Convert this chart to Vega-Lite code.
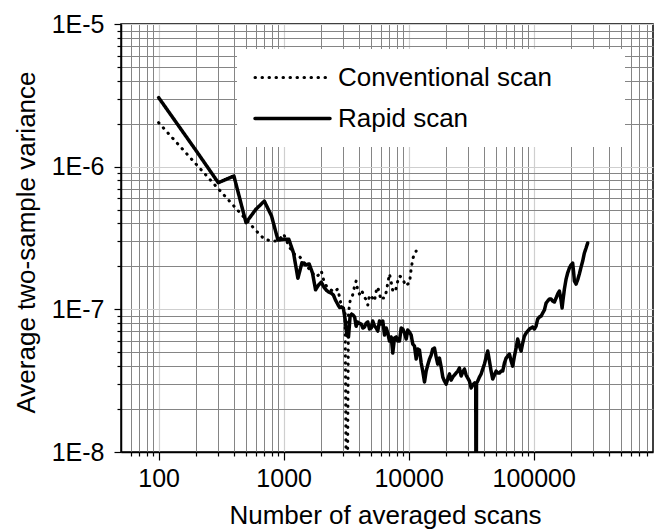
{
  "$schema": "https://vega.github.io/schema/vega-lite/v6.json",
  "width": 532,
  "height": 428,
  "autosize": "none",
  "padding": {"left": 121, "top": 24, "right": 2, "bottom": 77},
  "background": "white",
  "config": {
    "font": "Liberation Sans",
    "view": {"stroke": "black", "strokeWidth": 1.5}
  },
  "data": {
    "values": [
      {"scans": 100, "variance": 2.035e-6, "series": "Conventional scan"},
      {"scans": 200, "variance": 1.038e-6, "series": "Conventional scan"},
      {"scans": 300, "variance": 7.0e-7, "series": "Conventional scan"},
      {"scans": 400, "variance": 5.3e-7, "series": "Conventional scan"},
      {"scans": 500, "variance": 4.26e-7, "series": "Conventional scan"},
      {"scans": 600, "variance": 3.57e-7, "series": "Conventional scan"},
      {"scans": 700, "variance": 3.11e-7, "series": "Conventional scan"},
      {"scans": 800, "variance": 3.01e-7, "series": "Conventional scan"},
      {"scans": 900, "variance": 3.01e-7, "series": "Conventional scan"},
      {"scans": 1000, "variance": 3.37e-7, "series": "Conventional scan"},
      {"scans": 1100, "variance": 2.78e-7, "series": "Conventional scan"},
      {"scans": 1200, "variance": 2.44e-7, "series": "Conventional scan"},
      {"scans": 1300, "variance": 2.40e-7, "series": "Conventional scan"},
      {"scans": 1400, "variance": 2.25e-7, "series": "Conventional scan"},
      {"scans": 1500, "variance": 2.05e-7, "series": "Conventional scan"},
      {"scans": 1600, "variance": 1.92e-7, "series": "Conventional scan"},
      {"scans": 1700, "variance": 1.80e-7, "series": "Conventional scan"},
      {"scans": 1800, "variance": 1.685e-7, "series": "Conventional scan"},
      {"scans": 1900, "variance": 1.74e-7, "series": "Conventional scan"},
      {"scans": 2000, "variance": 1.857e-7, "series": "Conventional scan"},
      {"scans": 2100, "variance": 1.58e-7, "series": "Conventional scan"},
      {"scans": 2200, "variance": 1.457e-7, "series": "Conventional scan"},
      {"scans": 2300, "variance": 1.41e-7, "series": "Conventional scan"},
      {"scans": 2400, "variance": 1.366e-7, "series": "Conventional scan"},
      {"scans": 2500, "variance": 1.322e-7, "series": "Conventional scan"},
      {"scans": 2600, "variance": 1.344e-7, "series": "Conventional scan"},
      {"scans": 2700, "variance": 1.388e-7, "series": "Conventional scan"},
      {"scans": 2800, "variance": 1.22e-7, "series": "Conventional scan"},
      {"scans": 2900, "variance": 1.038e-7, "series": "Conventional scan"},
      {"scans": 3000, "variance": 1.021e-7, "series": "Conventional scan"},
      {"scans": 3100, "variance": 9.89e-8, "series": "Conventional scan"},
      {"scans": 3200, "variance": 1e-9, "series": "Conventional scan"},
      {"scans": 3300, "variance": 9.42e-8, "series": "Conventional scan"},
      {"scans": 3400, "variance": 1.143e-7, "series": "Conventional scan"},
      {"scans": 3500, "variance": 1.2e-7, "series": "Conventional scan"},
      {"scans": 3600, "variance": 1.30e-7, "series": "Conventional scan"},
      {"scans": 3690, "variance": 1.457e-7, "series": "Conventional scan"},
      {"scans": 3800, "variance": 1.58e-7, "series": "Conventional scan"},
      {"scans": 3920, "variance": 1.344e-7, "series": "Conventional scan"},
      {"scans": 4040, "variance": 1.28e-7, "series": "Conventional scan"},
      {"scans": 4170, "variance": 1.366e-7, "series": "Conventional scan"},
      {"scans": 4300, "variance": 1.30e-7, "series": "Conventional scan"},
      {"scans": 4430, "variance": 1.22e-7, "series": "Conventional scan"},
      {"scans": 4575, "variance": 1.162e-7, "series": "Conventional scan"},
      {"scans": 4710, "variance": 1.072e-7, "series": "Conventional scan"},
      {"scans": 4860, "variance": 1.26e-7, "series": "Conventional scan"},
      {"scans": 5020, "variance": 1.22e-7, "series": "Conventional scan"},
      {"scans": 5160, "variance": 1.20e-7, "series": "Conventional scan"},
      {"scans": 5330, "variance": 1.143e-7, "series": "Conventional scan"},
      {"scans": 5500, "variance": 1.344e-7, "series": "Conventional scan"},
      {"scans": 5660, "variance": 1.434e-7, "series": "Conventional scan"},
      {"scans": 5840, "variance": 1.28e-7, "series": "Conventional scan"},
      {"scans": 6030, "variance": 1.162e-7, "series": "Conventional scan"},
      {"scans": 6210, "variance": 1.20e-7, "series": "Conventional scan"},
      {"scans": 6410, "variance": 1.20e-7, "series": "Conventional scan"},
      {"scans": 6610, "variance": 1.322e-7, "series": "Conventional scan"},
      {"scans": 6810, "variance": 1.529e-7, "series": "Conventional scan"},
      {"scans": 7020, "variance": 1.77e-7, "series": "Conventional scan"},
      {"scans": 7250, "variance": 1.554e-7, "series": "Conventional scan"},
      {"scans": 7460, "variance": 1.344e-7, "series": "Conventional scan"},
      {"scans": 7700, "variance": 1.322e-7, "series": "Conventional scan"},
      {"scans": 7950, "variance": 1.41e-7, "series": "Conventional scan"},
      {"scans": 8180, "variance": 1.58e-7, "series": "Conventional scan"},
      {"scans": 8440, "variance": 1.712e-7, "series": "Conventional scan"},
      {"scans": 8710, "variance": 1.685e-7, "series": "Conventional scan"},
      {"scans": 8970, "variance": 1.63e-7, "series": "Conventional scan"},
      {"scans": 9260, "variance": 1.529e-7, "series": "Conventional scan"},
      {"scans": 9550, "variance": 1.457e-7, "series": "Conventional scan"},
      {"scans": 9830, "variance": 1.504e-7, "series": "Conventional scan"},
      {"scans": 10150, "variance": 1.529e-7, "series": "Conventional scan"},
      {"scans": 10470, "variance": 1.917e-7, "series": "Conventional scan"},
      {"scans": 10780, "variance": 2.25e-7, "series": "Conventional scan"},
      {"scans": 11130, "variance": 2.48e-7, "series": "Conventional scan"},
      {"scans": 11480, "variance": 2.56e-7, "series": "Conventional scan"},
      {"scans": 100, "variance": 3.05e-6, "series": "Rapid scan"},
      {"scans": 200, "variance": 1.29e-6, "series": "Rapid scan"},
      {"scans": 300, "variance": 7.72e-7, "series": "Rapid scan"},
      {"scans": 400, "variance": 8.6e-7, "series": "Rapid scan"},
      {"scans": 500, "variance": 4.05e-7, "series": "Rapid scan"},
      {"scans": 600, "variance": 5.03e-7, "series": "Rapid scan"},
      {"scans": 700, "variance": 5.74e-7, "series": "Rapid scan"},
      {"scans": 800, "variance": 4.51e-7, "series": "Rapid scan"},
      {"scans": 900, "variance": 3.06e-7, "series": "Rapid scan"},
      {"scans": 1000, "variance": 3.1e-7, "series": "Rapid scan"},
      {"scans": 1100, "variance": 3.1e-7, "series": "Rapid scan"},
      {"scans": 1200, "variance": 2.48e-7, "series": "Rapid scan"},
      {"scans": 1300, "variance": 1.65e-7, "series": "Rapid scan"},
      {"scans": 1400, "variance": 2.12e-7, "series": "Rapid scan"},
      {"scans": 1500, "variance": 2.05e-7, "series": "Rapid scan"},
      {"scans": 1600, "variance": 2.08e-7, "series": "Rapid scan"},
      {"scans": 1700, "variance": 1.80e-7, "series": "Rapid scan"},
      {"scans": 1800, "variance": 1.37e-7, "series": "Rapid scan"},
      {"scans": 1900, "variance": 1.48e-7, "series": "Rapid scan"},
      {"scans": 2000, "variance": 1.55e-7, "series": "Rapid scan"},
      {"scans": 2100, "variance": 1.43e-7, "series": "Rapid scan"},
      {"scans": 2200, "variance": 1.36e-7, "series": "Rapid scan"},
      {"scans": 2300, "variance": 1.32e-7, "series": "Rapid scan"},
      {"scans": 2400, "variance": 1.30e-7, "series": "Rapid scan"},
      {"scans": 2500, "variance": 1.26e-7, "series": "Rapid scan"},
      {"scans": 2600, "variance": 1.16e-7, "series": "Rapid scan"},
      {"scans": 2700, "variance": 1.09e-7, "series": "Rapid scan"},
      {"scans": 2800, "variance": 1.03e-7, "series": "Rapid scan"},
      {"scans": 2900, "variance": 1.04e-7, "series": "Rapid scan"},
      {"scans": 3000, "variance": 1.02e-7, "series": "Rapid scan"},
      {"scans": 3100, "variance": 8.55e-8, "series": "Rapid scan"},
      {"scans": 3200, "variance": 6.6e-8, "series": "Rapid scan"},
      {"scans": 3300, "variance": 6.4e-8, "series": "Rapid scan"},
      {"scans": 3400, "variance": 8.97e-8, "series": "Rapid scan"},
      {"scans": 3500, "variance": 9.27e-8, "series": "Rapid scan"},
      {"scans": 3600, "variance": 9.1e-8, "series": "Rapid scan"},
      {"scans": 3700, "variance": 8.8e-8, "series": "Rapid scan"},
      {"scans": 3800, "variance": 7.6e-8, "series": "Rapid scan"},
      {"scans": 3900, "variance": 8.15e-8, "series": "Rapid scan"},
      {"scans": 4000, "variance": 8.01e-8, "series": "Rapid scan"},
      {"scans": 4170, "variance": 7.89e-8, "series": "Rapid scan"},
      {"scans": 4300, "variance": 7.40e-8, "series": "Rapid scan"},
      {"scans": 4430, "variance": 7.51e-8, "series": "Rapid scan"},
      {"scans": 4575, "variance": 8.01e-8, "series": "Rapid scan"},
      {"scans": 4710, "variance": 8.15e-8, "series": "Rapid scan"},
      {"scans": 4860, "variance": 7.28e-8, "series": "Rapid scan"},
      {"scans": 5020, "variance": 7.40e-8, "series": "Rapid scan"},
      {"scans": 5160, "variance": 8.28e-8, "series": "Rapid scan"},
      {"scans": 5330, "variance": 7.64e-8, "series": "Rapid scan"},
      {"scans": 5500, "variance": 7.40e-8, "series": "Rapid scan"},
      {"scans": 5660, "variance": 7.04e-8, "series": "Rapid scan"},
      {"scans": 5840, "variance": 8.28e-8, "series": "Rapid scan"},
      {"scans": 6030, "variance": 7.89e-8, "series": "Rapid scan"},
      {"scans": 6210, "variance": 8.28e-8, "series": "Rapid scan"},
      {"scans": 6410, "variance": 6.60e-8, "series": "Rapid scan"},
      {"scans": 6610, "variance": 7.40e-8, "series": "Rapid scan"},
      {"scans": 6810, "variance": 6.82e-8, "series": "Rapid scan"},
      {"scans": 7020, "variance": 5.99e-8, "series": "Rapid scan"},
      {"scans": 7250, "variance": 6.39e-8, "series": "Rapid scan"},
      {"scans": 7460, "variance": 4.94e-8, "series": "Rapid scan"},
      {"scans": 7700, "variance": 6.29e-8, "series": "Rapid scan"},
      {"scans": 7950, "variance": 6.39e-8, "series": "Rapid scan"},
      {"scans": 8180, "variance": 5.99e-8, "series": "Rapid scan"},
      {"scans": 8440, "variance": 5.99e-8, "series": "Rapid scan"},
      {"scans": 8710, "variance": 7.40e-8, "series": "Rapid scan"},
      {"scans": 8970, "variance": 7.28e-8, "series": "Rapid scan"},
      {"scans": 9260, "variance": 6.82e-8, "series": "Rapid scan"},
      {"scans": 9550, "variance": 6.19e-8, "series": "Rapid scan"},
      {"scans": 9830, "variance": 7.16e-8, "series": "Rapid scan"},
      {"scans": 10150, "variance": 6.93e-8, "series": "Rapid scan"},
      {"scans": 10470, "variance": 6.60e-8, "series": "Rapid scan"},
      {"scans": 10780, "variance": 5.71e-8, "series": "Rapid scan"},
      {"scans": 11130, "variance": 5.53e-8, "series": "Rapid scan"},
      {"scans": 11480, "variance": 4.48e-8, "series": "Rapid scan"},
      {"scans": 11820, "variance": 5.27e-8, "series": "Rapid scan"},
      {"scans": 12200, "variance": 5.18e-8, "series": "Rapid scan"},
      {"scans": 12590, "variance": 4.20e-8, "series": "Rapid scan"},
      {"scans": 12960, "variance": 3.69e-8, "series": "Rapid scan"},
      {"scans": 13380, "variance": 3.09e-8, "series": "Rapid scan"},
      {"scans": 13800, "variance": 3.69e-8, "series": "Rapid scan"},
      {"scans": 14210, "variance": 4.07e-8, "series": "Rapid scan"},
      {"scans": 14670, "variance": 4.48e-8, "series": "Rapid scan"},
      {"scans": 15130, "variance": 4.78e-8, "series": "Rapid scan"},
      {"scans": 15580, "variance": 5.27e-8, "series": "Rapid scan"},
      {"scans": 16080, "variance": 5.35e-8, "series": "Rapid scan"},
      {"scans": 16590, "variance": 4.63e-8, "series": "Rapid scan"},
      {"scans": 17090, "variance": 4.13e-8, "series": "Rapid scan"},
      {"scans": 17630, "variance": 4.55e-8, "series": "Rapid scan"},
      {"scans": 18190, "variance": 3.94e-8, "series": "Rapid scan"},
      {"scans": 18740, "variance": 3.35e-8, "series": "Rapid scan"},
      {"scans": 19330, "variance": 3.14e-8, "series": "Rapid scan"},
      {"scans": 19940, "variance": 2.99e-8, "series": "Rapid scan"},
      {"scans": 20540, "variance": 3.25e-8, "series": "Rapid scan"},
      {"scans": 21190, "variance": 3.52e-8, "series": "Rapid scan"},
      {"scans": 21860, "variance": 3.19e-8, "series": "Rapid scan"},
      {"scans": 22520, "variance": 3.35e-8, "series": "Rapid scan"},
      {"scans": 23230, "variance": 3.46e-8, "series": "Rapid scan"},
      {"scans": 23970, "variance": 3.58e-8, "series": "Rapid scan"},
      {"scans": 24690, "variance": 3.69e-8, "series": "Rapid scan"},
      {"scans": 25470, "variance": 3.88e-8, "series": "Rapid scan"},
      {"scans": 26280, "variance": 3.41e-8, "series": "Rapid scan"},
      {"scans": 27070, "variance": 3.63e-8, "series": "Rapid scan"},
      {"scans": 27930, "variance": 3.81e-8, "series": "Rapid scan"},
      {"scans": 28820, "variance": 3.46e-8, "series": "Rapid scan"},
      {"scans": 29680, "variance": 3.30e-8, "series": "Rapid scan"},
      {"scans": 30620, "variance": 3.14e-8, "series": "Rapid scan"},
      {"scans": 31590, "variance": 2.81e-8, "series": "Rapid scan"},
      {"scans": 32530, "variance": 2.95e-8, "series": "Rapid scan"},
      {"scans": 33570, "variance": 3.04e-8, "series": "Rapid scan"},
      {"scans": 34380, "variance": 3.04e-8, "series": "Rapid scan"},
      {"scans": 34640, "variance": 1e-9, "series": "Rapid scan"},
      {"scans": 34890, "variance": 3.04e-8, "series": "Rapid scan"},
      {"scans": 35670, "variance": 3.14e-8, "series": "Rapid scan"},
      {"scans": 36810, "variance": 3.35e-8, "series": "Rapid scan"},
      {"scans": 37970, "variance": 3.52e-8, "series": "Rapid scan"},
      {"scans": 39110, "variance": 3.81e-8, "series": "Rapid scan"},
      {"scans": 40350, "variance": 4.13e-8, "series": "Rapid scan"},
      {"scans": 41640, "variance": 4.63e-8, "series": "Rapid scan"},
      {"scans": 42890, "variance": 5.10e-8, "series": "Rapid scan"},
      {"scans": 44250, "variance": 4.34e-8, "series": "Rapid scan"},
      {"scans": 45650, "variance": 3.69e-8, "series": "Rapid scan"},
      {"scans": 47010, "variance": 3.25e-8, "series": "Rapid scan"},
      {"scans": 48510, "variance": 3.46e-8, "series": "Rapid scan"},
      {"scans": 50050, "variance": 3.69e-8, "series": "Rapid scan"},
      {"scans": 51550, "variance": 3.58e-8, "series": "Rapid scan"},
      {"scans": 53190, "variance": 3.58e-8, "series": "Rapid scan"},
      {"scans": 54880, "variance": 3.69e-8, "series": "Rapid scan"},
      {"scans": 56520, "variance": 3.69e-8, "series": "Rapid scan"},
      {"scans": 58320, "variance": 4.20e-8, "series": "Rapid scan"},
      {"scans": 60170, "variance": 4.55e-8, "series": "Rapid scan"},
      {"scans": 61970, "variance": 4.70e-8, "series": "Rapid scan"},
      {"scans": 63940, "variance": 4.86e-8, "series": "Rapid scan"},
      {"scans": 65970, "variance": 4.34e-8, "series": "Rapid scan"},
      {"scans": 67940, "variance": 4.00e-8, "series": "Rapid scan"},
      {"scans": 70100, "variance": 4.70e-8, "series": "Rapid scan"},
      {"scans": 72330, "variance": 5.35e-8, "series": "Rapid scan"},
      {"scans": 74490, "variance": 6.19e-8, "series": "Rapid scan"},
      {"scans": 76860, "variance": 5.53e-8, "series": "Rapid scan"},
      {"scans": 79300, "variance": 5.10e-8, "series": "Rapid scan"},
      {"scans": 81680, "variance": 5.80e-8, "series": "Rapid scan"},
      {"scans": 84280, "variance": 6.50e-8, "series": "Rapid scan"},
      {"scans": 86960, "variance": 6.82e-8, "series": "Rapid scan"},
      {"scans": 89560, "variance": 7.04e-8, "series": "Rapid scan"},
      {"scans": 92410, "variance": 7.28e-8, "series": "Rapid scan"},
      {"scans": 95330, "variance": 7.40e-8, "series": "Rapid scan"},
      {"scans": 98170, "variance": 7.51e-8, "series": "Rapid scan"},
      {"scans": 101300, "variance": 7.28e-8, "series": "Rapid scan"},
      {"scans": 104500, "variance": 7.64e-8, "series": "Rapid scan"},
      {"scans": 107600, "variance": 8.55e-8, "series": "Rapid scan"},
      {"scans": 111100, "variance": 8.83e-8, "series": "Rapid scan"},
      {"scans": 114600, "variance": 8.97e-8, "series": "Rapid scan"},
      {"scans": 118000, "variance": 9.42e-8, "series": "Rapid scan"},
      {"scans": 121800, "variance": 9.89e-8, "series": "Rapid scan"},
      {"scans": 125700, "variance": 1.107e-7, "series": "Rapid scan"},
      {"scans": 129400, "variance": 1.143e-7, "series": "Rapid scan"},
      {"scans": 133500, "variance": 1.181e-7, "series": "Rapid scan"},
      {"scans": 137800, "variance": 1.181e-7, "series": "Rapid scan"},
      {"scans": 141900, "variance": 1.143e-7, "series": "Rapid scan"},
      {"scans": 146400, "variance": 1.125e-7, "series": "Rapid scan"},
      {"scans": 151100, "variance": 1.200e-7, "series": "Rapid scan"},
      {"scans": 155500, "variance": 1.280e-7, "series": "Rapid scan"},
      {"scans": 160500, "variance": 1.344e-7, "series": "Rapid scan"},
      {"scans": 165000, "variance": 1.181e-7, "series": "Rapid scan"},
      {"scans": 168700, "variance": 1.021e-7, "series": "Rapid scan"},
      {"scans": 171200, "variance": 1.143e-7, "series": "Rapid scan"},
      {"scans": 176000, "variance": 1.388e-7, "series": "Rapid scan"},
      {"scans": 181600, "variance": 1.63e-7, "series": "Rapid scan"},
      {"scans": 187000, "variance": 1.80e-7, "series": "Rapid scan"},
      {"scans": 193000, "variance": 1.95e-7, "series": "Rapid scan"},
      {"scans": 199100, "variance": 2.05e-7, "series": "Rapid scan"},
      {"scans": 205000, "variance": 2.11e-7, "series": "Rapid scan"},
      {"scans": 208800, "variance": 1.80e-7, "series": "Rapid scan"},
      {"scans": 211500, "variance": 1.58e-7, "series": "Rapid scan"},
      {"scans": 218300, "variance": 1.504e-7, "series": "Rapid scan"},
      {"scans": 224700, "variance": 1.61e-7, "series": "Rapid scan"},
      {"scans": 231900, "variance": 1.77e-7, "series": "Rapid scan"},
      {"scans": 239300, "variance": 1.98e-7, "series": "Rapid scan"},
      {"scans": 246500, "variance": 2.18e-7, "series": "Rapid scan"},
      {"scans": 254300, "variance": 2.48e-7, "series": "Rapid scan"},
      {"scans": 262400, "variance": 2.69e-7, "series": "Rapid scan"},
      {"scans": 270200, "variance": 2.92e-7, "series": "Rapid scan"}
    ]
  },
  "layer": [
    {
      "mark": {"type": "line", "opacity": 0, "clip": true},
      "encoding": {
        "x": {
          "field": "scans", "type": "quantitative",
          "scale": {"type": "log", "domain": [50, 900000], "nice": false},
          "axis": {
            "orient": "bottom",
            "values": [60, 70, 80, 90, 200, 300, 400, 500, 600, 700, 800, 900, 2000, 3000, 4000, 5000, 6000, 7000, 8000, 9000, 20000, 30000, 40000, 50000, 60000, 70000, 80000, 90000, 200000, 300000, 400000, 500000, 600000, 700000, 800000],
            "labels": false, "domain": false, "title": null,
            "grid": true, "gridColor": "#858585", "gridWidth": 1, "gridOpacity": 1,
            "ticks": true, "tickSize": 4, "tickColor": "black", "tickWidth": 1.2
          }
        },
        "y": {
          "field": "variance", "type": "quantitative",
          "scale": {"type": "log", "domain": [1e-8, 1e-5], "nice": false},
          "axis": {
            "orient": "left",
            "values": [2e-8, 3e-8, 4e-8, 5e-8, 6e-8, 7e-8, 8e-8, 9e-8, 2e-7, 3e-7, 4e-7, 5e-7, 6e-7, 7e-7, 8e-7, 9e-7, 2e-6, 3e-6, 4e-6, 5e-6, 6e-6, 7e-6, 8e-6, 9e-6],
            "labels": false, "domain": false, "title": null,
            "grid": true, "gridColor": "#858585", "gridWidth": 1, "gridOpacity": 1,
            "ticks": true, "tickSize": 4, "tickColor": "black", "tickWidth": 1.2
          }
        }
      }
    },
    {
      "mark": {"type": "line", "color": "black", "strokeCap": "round", "strokeJoin": "round", "clip": true},
      "encoding": {
        "x": {
          "field": "scans", "type": "quantitative",
          "scale": {"type": "log", "domain": [50, 900000], "nice": false},
          "axis": {
            "orient": "bottom",
            "values": [100, 1000, 10000, 100000],
            "format": "d",
            "grid": true, "gridColor": "#cfcfcf", "gridWidth": 1.2, "gridOpacity": 1,
            "tickSize": 8, "tickColor": "black", "tickWidth": 1.2,
            "domainColor": "black", "domainWidth": 1.5,
            "labelFont": "Liberation Sans", "labelFontSize": 25, "labelColor": "black",
            "labelPadding": 6, "labelFlush": false, "labelOverlap": false,
            "title": "Number of averaged scans",
            "titleFont": "Liberation Sans", "titleFontSize": 26, "titleFontWeight": "normal", "titleColor": "black",
            "titleX": 264, "titleY": 71, "titleAlign": "center", "titleBaseline": "alphabetic"
          }
        },
        "y": {
          "field": "variance", "type": "quantitative",
          "scale": {"type": "log", "domain": [1e-8, 1e-5], "nice": false},
          "axis": {
            "orient": "left",
            "values": [1e-8, 1e-7, 1e-6, 1e-5],
            "labelExpr": "'1E' + round(log(datum.value) / LN10)",
            "grid": true, "gridColor": "#cfcfcf", "gridWidth": 1.2, "gridOpacity": 1,
            "tickSize": 7, "tickColor": "black", "tickWidth": 1.2,
            "domainColor": "black", "domainWidth": 1.5,
            "labelFont": "Liberation Sans", "labelFontSize": 25, "labelColor": "black",
            "labelPadding": 10, "labelFlush": false, "labelOverlap": false,
            "title": "Average two-sample variance",
            "titleFont": "Liberation Sans", "titleFontSize": 26, "titleFontWeight": "normal", "titleColor": "black",
            "titleAngle": -90, "titleX": -87, "titleY": 218, "titleAlign": "center", "titleBaseline": "alphabetic"
          }
        },
        "strokeWidth": {
          "field": "series", "type": "nominal",
          "scale": {"domain": ["Conventional scan", "Rapid scan"], "range": [3, 3.5]},
          "legend": null
        },
        "strokeDash": {
          "field": "series", "type": "nominal",
          "scale": {"domain": ["Conventional scan", "Rapid scan"], "range": [[0.5, 6.5], [1, 0]]},
          "legend": {
            "orient": "none", "legendX": 116, "legendY": 25,
            "title": null,
            "fillColor": "white", "strokeColor": null, "padding": 8,
            "symbolType": "stroke", "symbolSize": 5625, "symbolStrokeWidth": 3, "symbolStrokeColor": "black",
            "symbolOffset": 8, "labelOffset": 6, "clipHeight": 41, "rowPadding": 0,
            "labelFont": "Liberation Sans", "labelFontSize": 26, "labelColor": "black", "labelLimit": 600,
            "labelExpr": "datum.label + '\u00a0\u00a0\u00a0\u00a0\u00a0\u00a0\u00a0\u00a0\u00a0\u200b'",
            "encode": {
              "symbols": {
                "update": {
                  "strokeDash": {"signal": "datum.value === 'Conventional scan' ? [0.5, 4.2] : [1, 0]"},
                  "strokeCap": {"value": "round"},
                  "stroke": {"value": "black"},
                  "strokeWidth": {"signal": "datum.value === 'Conventional scan' ? 3 : 3.5"}
                }
              }
            }
          }
        }
      }
    }
  ],
  "resolve": {"axis": {"x": "independent", "y": "independent"}}
}
